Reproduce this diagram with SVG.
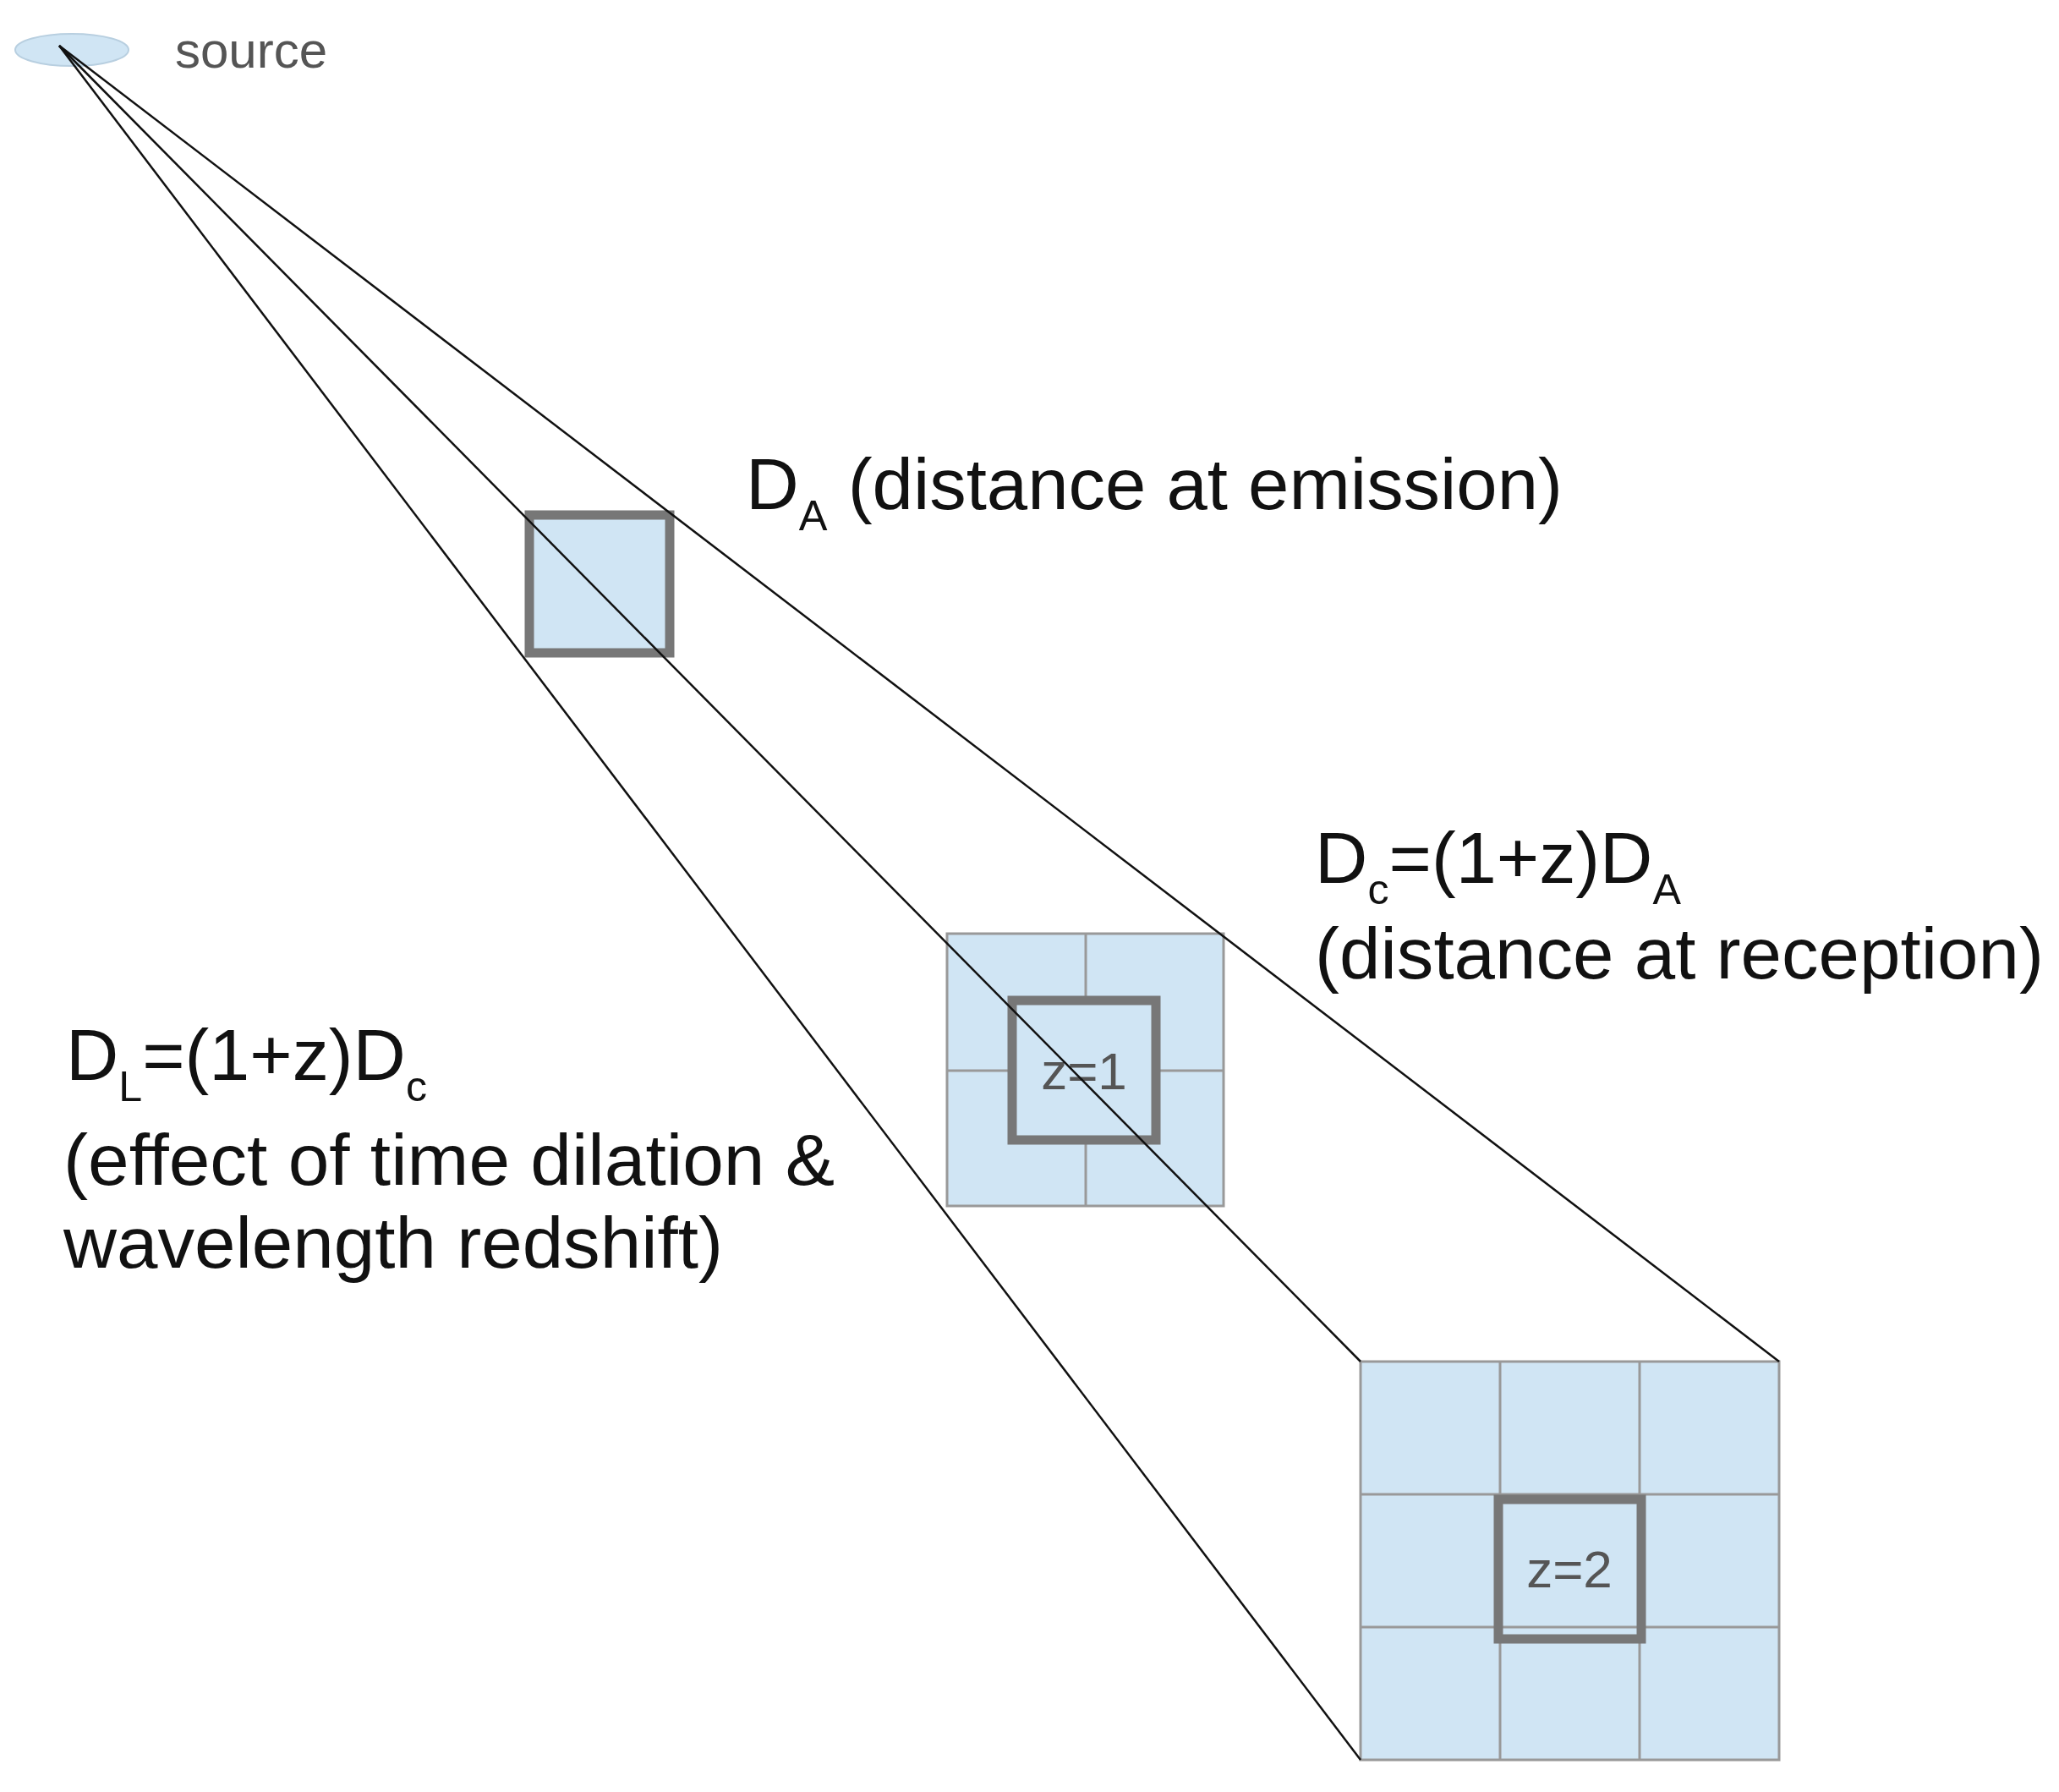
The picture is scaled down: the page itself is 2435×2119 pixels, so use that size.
<svg xmlns="http://www.w3.org/2000/svg" width="2435" height="2119" viewBox="0 0 2435 2119">
<style>
.t{font-family:"Liberation Sans",Arial,sans-serif;fill:#111;font-size:86px}
.s{font-size:50px}
.z{font-family:"Liberation Sans",Arial,sans-serif;fill:#555;font-size:62px}
.cell{fill:#d0e5f4;stroke:#999;stroke-width:3}
.thick{fill:none;stroke:#777;stroke-width:11}
.ln{stroke:#111;stroke-width:2.5;fill:none}
</style>
<rect width="2435" height="2119" fill="#fff"/>
<g id="source">
<ellipse cx="85" cy="59" rx="67" ry="19" fill="#d0e5f4" stroke="#b8cfe0" stroke-width="2"/>
<text x="207" y="80" class="t" style="font-size:60px;fill:#555">source</text>
</g>
<g id="square-emission">
<rect x="626" y="609" width="166" height="163" fill="#d0e5f4"/>
<rect x="626" y="609" width="166" height="163" class="thick"/>
</g>
<g id="grid-z1">
<rect x="1120" y="1104" width="327" height="322" class="cell"/>
<line x1="1284" y1="1104" x2="1284" y2="1426" stroke="#999" stroke-width="3"/>
<line x1="1120" y1="1266" x2="1447" y2="1266" stroke="#999" stroke-width="3"/>
<rect x="1197" y="1183" width="170" height="165" fill="#d0e5f4" class="thick" style="fill:#d0e5f4"/>
<text x="1282" y="1288" class="z" text-anchor="middle">z=1</text>
</g>
<g id="grid-z2">
<rect x="1609" y="1610" width="495" height="471" class="cell"/>
<line x1="1774" y1="1610" x2="1774" y2="2081" stroke="#999" stroke-width="3"/>
<line x1="1939" y1="1610" x2="1939" y2="2081" stroke="#999" stroke-width="3"/>
<line x1="1609" y1="1767" x2="2104" y2="1767" stroke="#999" stroke-width="3"/>
<line x1="1609" y1="1924" x2="2104" y2="1924" stroke="#999" stroke-width="3"/>
<rect x="1772" y="1773" width="169" height="165" class="thick"/>
<text x="1856" y="1877" class="z" text-anchor="middle">z=2</text>
</g>
<g id="connectors">
<line x1="70" y1="54" x2="2104" y2="1610" class="ln"/>
<line x1="70" y1="54" x2="1609" y2="1610" class="ln"/>
<line x1="70" y1="54" x2="1609" y2="2081" class="ln"/>
</g>
<g id="label-DA">
<text x="882" y="602" class="t" textLength="966" lengthAdjust="spacingAndGlyphs">D<tspan class="s" dy="25">A</tspan><tspan dy="-25"> (distance at emission)</tspan></text>
</g>
<g id="label-Dc">
<text x="1555" y="1044" class="t" textLength="433" lengthAdjust="spacingAndGlyphs">D<tspan class="s" dy="25">c</tspan><tspan dy="-25">=(1+z)D</tspan><tspan class="s" dy="25">A</tspan></text>
<text x="1555" y="1157" class="t" textLength="862" lengthAdjust="spacingAndGlyphs">(distance at reception)</text>
</g>
<g id="label-DL">
<text x="78" y="1277" class="t" textLength="427" lengthAdjust="spacingAndGlyphs">D<tspan class="s" dy="25">L</tspan><tspan dy="-25">=(1+z)D</tspan><tspan class="s" dy="25">c</tspan></text>
<text x="75" y="1401" class="t" textLength="912" lengthAdjust="spacingAndGlyphs">(effect of time dilation &amp;</text>
<text x="75" y="1499" class="t" textLength="780" lengthAdjust="spacingAndGlyphs">wavelength redshift)</text>
</g>
</svg>
